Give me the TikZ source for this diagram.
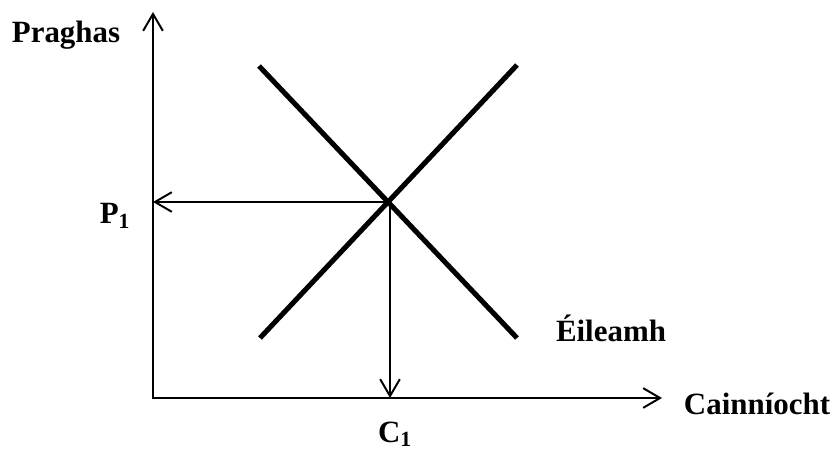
\documentclass[tikz,border=0pt]{standalone}
\usepackage{fontspec}
\setmainfont{Liberation Serif}
\usetikzlibrary{arrows.meta, positioning, calc}

\begin{document}
\begin{tikzpicture}[
  x=0.025cm, y=-0.025cm,
  >={Straight Barb[length=12pt, width=14pt, line width=1.4pt]},
  axis/.style={line width=1.4pt, ->},
  curve/.style={line width=3.6pt},
  guide/.style={line width=1.4pt, ->},
  lbl/.style={font=\fontsize{22}{26}\selectfont\bfseries, inner sep=0pt},
]

\useasboundingbox (0,0) rectangle (834,452);

% Axes
\coordinate (O) at (153,398);
\coordinate (ytop) at (153,12);
\coordinate (xend) at (662,398);
\draw[axis, line cap=rect] (O) -- (ytop);
\draw[axis] (O) -- (xend);

% Supply and demand lines
\coordinate (s1) at (260,338);
\coordinate (s2) at (517,65);
\coordinate (d1) at (259,66);
\coordinate (d2) at (517,338);
\draw[curve] (s1) -- (s2);
\draw[curve] (d1) -- (d2);

% Equilibrium and guide arrows
\coordinate (E) at (390,202);
\coordinate (pE) at (153,202);
\coordinate (cE) at (390,398);
\draw[guide] (E) -- (pE);
\draw[guide] (E) -- (cE);

% Labels
\node[lbl] (praghas) at (66,35) {Praghas};
\node[lbl] (p1) at (115,216) {P\textsubscript{1}};
\node[lbl] (c1) at (395,434) {C\textsubscript{1}};
\node[lbl] (eileamh) at (611,328) {Éileamh};
\node[lbl] (cainniocht) at (757,404) {Cainníocht};

\end{tikzpicture}
\end{document}
